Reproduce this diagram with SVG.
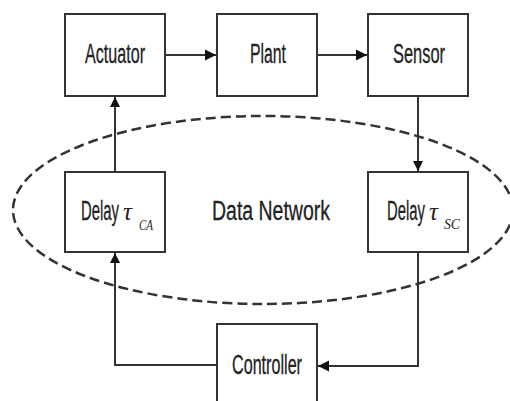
<svg xmlns="http://www.w3.org/2000/svg" width="510" height="401" viewBox="0 0 510 401">
  <defs>
    <style>
      .box { fill: #ffffff; stroke: #333333; stroke-width: 2; }
      .wire { fill: none; stroke: #333333; stroke-width: 2; }
      .net { fill: none; stroke: #333333; stroke-width: 2.5; stroke-dasharray: 10 5; }
      .lbl { font-family: "Liberation Sans", Arial, sans-serif; font-size: 27px; fill: #222222; stroke: #222222; stroke-width: 0.3; }
      .sym { font-family: "Liberation Serif", "Times New Roman", serif; font-style: italic; fill: #222222; }
    </style>
    <marker id="arrow" viewBox="0 0 10 10" refX="10" refY="5" markerWidth="11" markerHeight="12" markerUnits="userSpaceOnUse" orient="auto">
      <path d="M0,0 L10,5 L0,10 Z" fill="#111111"/>
    </marker>
    <marker id="arrowV" viewBox="0 0 10 10" refX="10" refY="5" markerWidth="15" markerHeight="10" markerUnits="userSpaceOnUse" orient="auto">
      <path d="M0,0 L10,5 L0,10 Z" fill="#111111"/>
    </marker>
  </defs>

  <!-- data network boundary -->
  <ellipse class="net" cx="263" cy="210" rx="250" ry="94"/>

  <!-- connectors -->
  <g id="connectors">
    <line class="wire" x1="166" y1="55" x2="216" y2="55" marker-end="url(#arrow)"/>
    <line class="wire" x1="318" y1="55" x2="367" y2="55" marker-end="url(#arrow)"/>
    <line class="wire" x1="418" y1="96" x2="418" y2="171" marker-end="url(#arrowV)"/>
    <polyline class="wire" points="418,252 418,366 318,366" marker-end="url(#arrow)"/>
    <polyline class="wire" points="216,365 115,365 115,253" marker-end="url(#arrowV)"/>
    <line class="wire" x1="115" y1="172" x2="115" y2="97" marker-end="url(#arrowV)"/>
  </g>

  <g id="actuator">
    <rect class="box" x="65" y="14" width="100" height="82"/>
    <text class="lbl" x="85" y="63" textLength="60" lengthAdjust="spacingAndGlyphs">Actuator</text>
  </g>

  <g id="plant">
    <rect class="box" x="217" y="14" width="100" height="82"/>
    <text class="lbl" x="250" y="63" textLength="36" lengthAdjust="spacingAndGlyphs">Plant</text>
  </g>

  <g id="sensor">
    <rect class="box" x="368" y="14" width="100" height="82"/>
    <text class="lbl" x="393" y="63" textLength="52" lengthAdjust="spacingAndGlyphs">Sensor</text>
  </g>

  <g id="delay-ca">
    <rect class="box" x="65" y="172" width="100" height="80"/>
    <text class="lbl" x="81" y="220" textLength="38" lengthAdjust="spacingAndGlyphs">Delay</text>
    <text class="sym" x="123" y="220" font-size="25">τ</text>
    <text class="sym" x="139" y="230" font-size="15" textLength="14" lengthAdjust="spacingAndGlyphs">CA</text>
  </g>

  <g id="data-network">
    <text class="lbl" x="212" y="220" font-size="31" textLength="118" lengthAdjust="spacingAndGlyphs">Data Network</text>
  </g>

  <g id="delay-sc">
    <rect class="box" x="368" y="172" width="100" height="80"/>
    <text class="lbl" x="387" y="220" textLength="38" lengthAdjust="spacingAndGlyphs">Delay</text>
    <text class="sym" x="429" y="220" font-size="25">τ</text>
    <text class="sym" x="444" y="229" font-size="15" textLength="16" lengthAdjust="spacingAndGlyphs">SC</text>
  </g>

  <g id="controller">
    <rect class="box" x="217" y="324" width="100" height="90"/>
    <text class="lbl" x="232" y="374" textLength="70" lengthAdjust="spacingAndGlyphs">Controller</text>
  </g>
</svg>
